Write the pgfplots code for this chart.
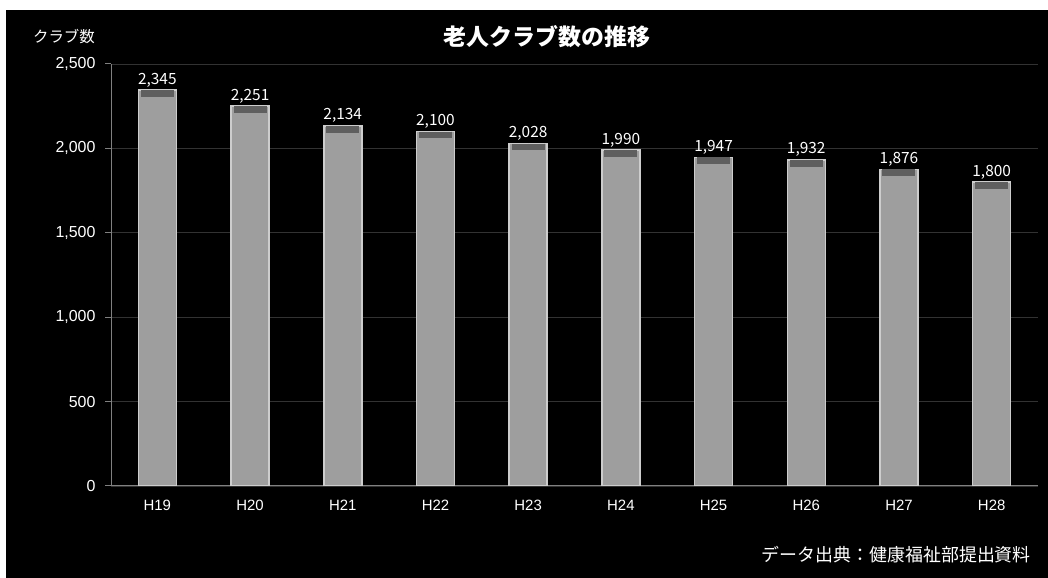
\documentclass[border=0pt]{standalone}
\usepackage{pgfplots}
\pgfplotsset{compat=1.18}
\usepackage{fontspec}
\setmainfont{Liberation Sans}
\newfontfamily\jp{Noto Sans CJK JP}
\definecolor{barfill}{RGB}{158,158,158}
\definecolor{baredge}{RGB}{205,205,205}
\definecolor{bevel}{RGB}{95,95,95}
\definecolor{gridc}{RGB}{50,50,50}
\definecolor{axisc}{RGB}{128,128,128}
\pgfplotstableread{
x y ep em
0 2345 -6 40
1 2251 -6 40
2 2134 -6 40
3 2100 -6 40
4 2028 -6 40
5 1990 -6 40
6 1947 -6 40
7 1932 -6 40
8 1876 -6 40
9 1800 -6 40
}\clubs
\begin{document}
\begin{tikzpicture}[x=1bp,y=1bp]
\fill[white] (0,0) rectangle (1048,578);
\fill[black] (6,0) rectangle (1048,568);
\begin{axis}[
  at={(111bp,92bp)}, anchor=south west,
  scale only axis, width=927bp, height=422bp,
  xmin=-0.5, xmax=9.5, ymin=0, ymax=2500,
  ybar, bar width=38bp,
  xtick=data,
  xticklabels={H19,H20,H21,H22,H23,H24,H25,H26,H27,H28},
  ytick={0,500,1000,1500,2000,2500},
  /pgf/number format/.cd, 1000 sep={,}, assume math mode=true, /pgfplots/.cd,
  ymajorgrids,
  grid style={draw=gridc, line width=0.8bp},
  axis x line*=bottom, axis y line*=left,
  axis line style={draw=axisc, line width=1bp},
  x axis line style={-}, y axis line style={-},
  xtick style={draw=none},
  ytick style={draw=axisc, line width=1bp},
  tick align=outside, major tick length=6bp,
  yticklabel style={white, font=\fontsize{16}{16}\selectfont, xshift=-6bp},
  xticklabel style={white, font=\fontsize{15}{15}\selectfont, yshift=-5bp},
  nodes near coords,
  every node near coord/.append style={white, font=\jp\fontsize{15.5}{16}\selectfont, yshift=-1bp},
]
\addplot[fill=barfill, draw=baredge, line width=1.5bp,
  error bars/.cd, y dir=both, y explicit,
  error mark=none,
  error bar style={draw=bevel, line width=33bp}]
  table[x=x, y=y, y error plus=ep, y error minus=em] {\clubs};
\end{axis}
\node[white, font=\jp\bfseries\fontsize{23}{23}\selectfont] at (547,541) {老人クラブ数の推移};
\node[white, font=\jp\fontsize{15.5}{16}\selectfont] at (64,541) {クラブ数};
\node[white, anchor=east, inner sep=0pt, font=\jp\fontsize{18}{18}\selectfont] at (1031,23) {データ出典：健康福祉部提出資料};
\end{tikzpicture}
\end{document}
